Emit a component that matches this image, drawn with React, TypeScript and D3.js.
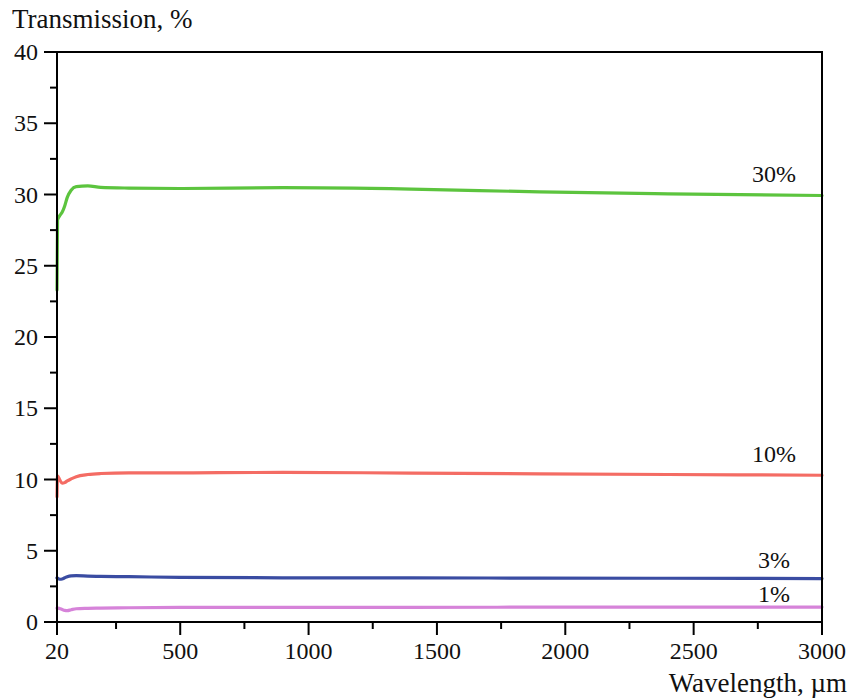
import React from 'react';
import { scaleLinear, line, curveMonotoneX, range } from 'd3';

// wavelength samples (µm), shared by all curves
const wavelengths = [20, 22, 30, 40, 50, 60, 75, 95, 140, 190, 300, 500, 900, 1400, 1900, 2400, 3000];

const green30 = [23.3, 28.2, 28.5, 28.75, 29.2, 29.8, 30.3, 30.55, 30.6, 30.5, 30.45, 30.42, 30.48, 30.38, 30.18, 30.05, 29.93];
const red10 = [8.8, 10.25, 10.0, 9.74, 9.78, 9.9, 10.04, 10.2, 10.35, 10.42, 10.47, 10.47, 10.5, 10.45, 10.4, 10.35, 10.3];
const blue3 = [3.1, 3.08, 3.0, 3.02, 3.1, 3.18, 3.24, 3.25, 3.22, 3.2, 3.18, 3.13, 3.1, 3.1, 3.08, 3.07, 3.05];
const pink1 = [0.98, 0.98, 0.95, 0.88, 0.82, 0.8, 0.86, 0.93, 0.96, 0.98, 1.0, 1.02, 1.03, 1.03, 1.04, 1.05, 1.05];

const seriesNames = ['30%', '10%', '3%', '1%'];
const seriesValues = [green30, red10, blue3, pink1];
const seriesColors = ['#5cc43e', '#f46c64', '#3a4ca2', '#d683d9'];

const xTickLabels = [20, 500, 1000, 1500, 2000, 2500, 3000];
const xMinorTicks = [250, 750, 1250, 1750, 2250, 2750];
const yTickLabels = [0, 5, 10, 15, 20, 25, 30, 35, 40];

const W = 849;
const H = 698;
const left = 57;
const right = 822;
const top = 52;
const bottom = 622;
const font = "'Liberation Serif', 'Times New Roman', 'DejaVu Serif', serif";

const App = () => {
  const x = scaleLinear().domain([20, 3000]).range([left, right]);
  const y = scaleLinear().domain([0, 40]).range([bottom, top]);

  const path = line<number>()
    .x((d, i) => x(wavelengths[i]))
    .y(d => y(d))
    .curve(curveMonotoneX);

  const yMinor = range(2.5, 40, 5);
  const txt = { fontFamily: font };

  return (
    <div style={{ position: 'absolute', left: 0, top: 0 }}>
      <svg width={W} height={H} style={{ display: 'block', background: '#fff', fontFamily: font }}>
        {/* curves */}
        {seriesValues.map((vals, i) => (
          <path key={seriesNames[i]} d={path(vals) || ''} fill="none" stroke={seriesColors[i]}
            strokeWidth={3.2} strokeLinejoin="round" strokeLinecap="round" />
        ))}

        {/* frame */}
        <rect x={left} y={top} width={right - left} height={bottom - top} fill="none" stroke="#000" strokeWidth={2} />

        {/* y axis ticks */}
        {yTickLabels.map(v => (
          <g key={'y' + v}>
            <line x1={left - 13} x2={left} y1={y(v)} y2={y(v)} stroke="#000" strokeWidth={2} />
            <text x={38} y={y(v) + 8} textAnchor="end" fontSize={24} fill="#111" style={txt}>{v}</text>
          </g>
        ))}
        {yMinor.map(v => (
          <line key={'ym' + v} x1={left - 7} x2={left} y1={y(v)} y2={y(v)} stroke="#000" strokeWidth={2} />
        ))}

        {/* x axis ticks */}
        {xTickLabels.map(v => (
          <g key={'x' + v}>
            <line x1={x(v)} x2={x(v)} y1={bottom} y2={bottom + 13} stroke="#000" strokeWidth={2} />
            <text x={x(v)} y={bottom + 37} textAnchor="middle" fontSize={24} fill="#111" style={txt}>{v}</text>
          </g>
        ))}
        {xMinorTicks.map(v => (
          <line key={'xm' + v} x1={x(v)} x2={x(v)} y1={bottom} y2={bottom + 7} stroke="#000" strokeWidth={2} />
        ))}

        {/* series labels */}
        {seriesNames.map((name, i) => {
          const last = seriesValues[i][seriesValues[i].length - 1];
          const dy = i < 2 ? -13 : -11;
          const yy = i === 3 ? y(last) - 5 : y(last) + dy;
          return (
            <text key={'l' + name} x={774} y={yy} textAnchor="middle" fontSize={24} fill="#111" style={txt}>{name}</text>
          );
        })}

        {/* axis titles */}
        <text x={12} y={28} fontSize={27} fill="#111" style={txt}>Transmission, %</text>
        <text x={847} y={692} textAnchor="end" fontSize={27} fill="#111" style={txt}>Wavelength, µm</text>
      </svg>
    </div>
  );
};

export default App;
